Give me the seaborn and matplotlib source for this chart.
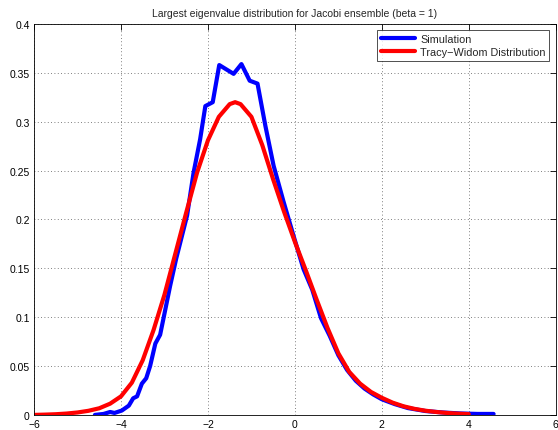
import numpy as np
import pandas as pd
import matplotlib
matplotlib.use("Agg")
import matplotlib.pyplot as plt
import seaborn as sns

# Simulation (histogram-based density estimate)
sim_x = [-4.6, -4.4, -4.25, -4.15, -3.98, -3.82, -3.72, -3.63, -3.52, -3.42, -3.33, -3.21,
         -3.10, -2.98, -2.87, -2.73, -2.48, -2.33, -2.18, -2.06, -1.89, -1.74, -1.41, -1.23,
         -1.04, -0.86, -0.68, -0.49, -0.26, -0.03, 0.2, 0.4, 0.6, 0.8, 1.0, 1.2, 1.4, 1.6,
         1.8, 2.0, 2.3, 2.6, 3.0, 3.4, 3.8, 4.2, 4.57]
sim_y = [0.000, 0.001, 0.003, 0.002, 0.0045, 0.0095, 0.017, 0.019, 0.032, 0.0375, 0.050, 0.073,
         0.082, 0.108, 0.132, 0.160, 0.204, 0.248, 0.282, 0.316, 0.320, 0.358, 0.349, 0.359,
         0.342, 0.339, 0.296, 0.255, 0.218, 0.183, 0.149, 0.128, 0.099, 0.081, 0.061, 0.046,
         0.035, 0.027, 0.021, 0.016, 0.011, 0.007, 0.004, 0.0025, 0.0015, 0.001, 0.001]

# Tracy-Widom (beta = 1) density
tw_x = [-6.0, -5.75, -5.5, -5.25, -5.0, -4.75, -4.5, -4.25, -4.0, -3.75, -3.5, -3.25, -3.0,
        -2.75, -2.5, -2.25, -2.0, -1.75, -1.5, -1.375, -1.25, -1.0, -0.75, -0.5, -0.25, 0.0,
        0.25, 0.5, 0.75, 1.0, 1.25, 1.5, 1.75, 2.0, 2.25, 2.5, 2.75, 3.0, 3.25, 3.5, 3.75, 4.0]
tw_y = [0.0000, 0.0003, 0.0007, 0.0014, 0.0025, 0.0042, 0.0068, 0.0115, 0.0190, 0.0330,
        0.0560, 0.0870, 0.1230, 0.1650, 0.2070, 0.2480, 0.2810, 0.3050, 0.3180, 0.3200,
        0.3180, 0.3050, 0.2760, 0.2410, 0.2080, 0.1770, 0.1480, 0.1180, 0.0890, 0.0630,
        0.0440, 0.0320, 0.0235, 0.0175, 0.0125, 0.0088, 0.0062, 0.0043, 0.0030, 0.0020,
        0.0013, 0.0008]

x_ticks = [-6, -4, -2, 0, 2, 4, 6]
x_labels = ["\u22126", "\u22124", "\u22122", "0", "2", "4", "6"]
y_ticks = [0, 0.05, 0.1, 0.15, 0.2, 0.25, 0.3, 0.35, 0.4]
y_labels = ["0", "0.05", "0.1", "0.15", "0.2", "0.25", "0.3", "0.35", "0.4"]

sns.set_style("white")
plt.rcParams['font.family'] = ['Liberation Sans', 'DejaVu Sans']

fig = plt.figure(figsize=(5.58, 4.31), dpi=100)
ax = fig.add_axes([0.061, 0.035, 0.935, 0.907])

sim_df = pd.DataFrame({"x": sim_x, "y": sim_y})
tw_df = pd.DataFrame({"x": tw_x, "y": tw_y})
sns.lineplot(data=sim_df, x="x", y="y", ax=ax, color="#0000ff", lw=3, label="Simulation",
             sort=False, estimator=None)
sns.lineplot(data=tw_df, x="x", y="y", ax=ax, color="#ff0000", lw=3,
             label="Tracy\u2212Widom Distribution", sort=False, estimator=None)

ax.set_xlim(-6, 6)
ax.set_ylim(0, 0.4)
ax.set_xticks(x_ticks)
ax.set_xticklabels(x_labels)
ax.set_yticks(y_ticks)
ax.set_yticklabels(y_labels)
ax.set_xlabel("")
ax.set_ylabel("")
ax.grid(True, linestyle=(0, (1, 3)), color="#555555", linewidth=0.6)
ax.tick_params(direction="in", length=4, width=0.6, labelsize=7.5, top=True, right=True,
               pad=3, colors="black")
for s in ax.spines.values():
    s.set_visible(True)
    s.set_color("black")
    s.set_linewidth(0.6)

ax.set_title("Largest eigenvalue distribution for Jacobi ensemble (beta = 1)", fontsize=7.5, pad=6)

leg = ax.legend(loc="upper right", fontsize=7.8, frameon=True, fancybox=False,
                edgecolor="black", handlelength=3.1, borderaxespad=0.6, labelspacing=0.25,
                borderpad=0.35, handletextpad=0.5)
leg.get_frame().set_linewidth(0.6)

fig.savefig("out.png", dpi=100)
